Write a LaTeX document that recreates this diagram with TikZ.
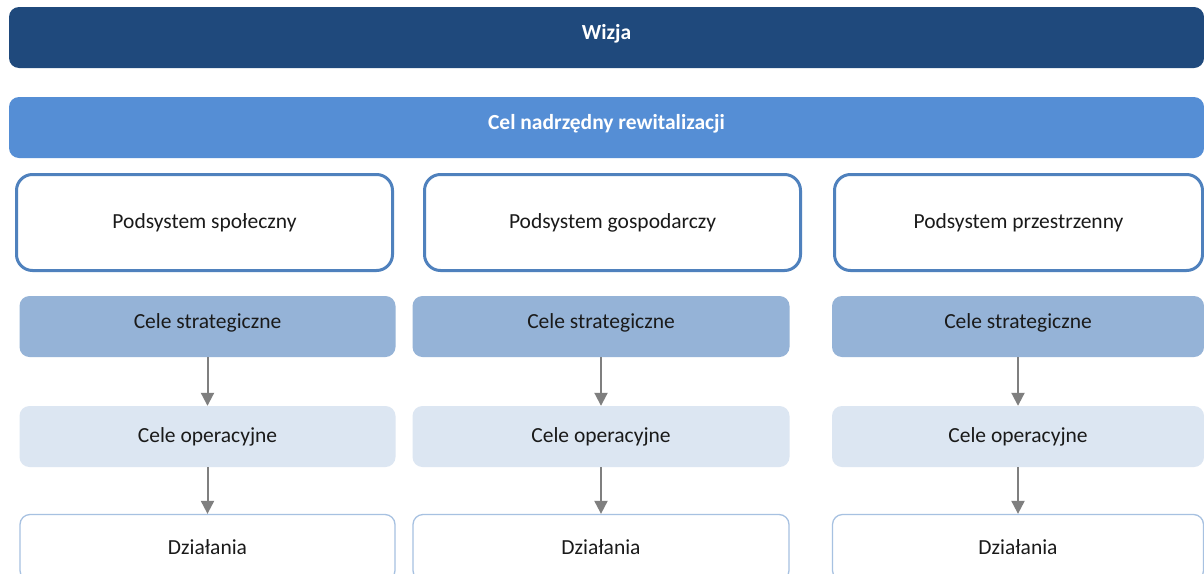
\documentclass[tikz,border=0pt]{standalone}
\usepackage{fontspec}
\setmainfont{Carlito}
\usetikzlibrary{arrows.meta}
\definecolor{navy}{HTML}{1F497C}
\definecolor{midblue}{HTML}{558ED5}
\definecolor{strokeblue}{HTML}{4F81BD}
\definecolor{stratblue}{HTML}{95B3D7}
\definecolor{operblue}{HTML}{DCE6F2}
\definecolor{dzialblue}{HTML}{A7C1E1}
\definecolor{txt}{HTML}{1A1A1A}
\definecolor{arrgray}{HTML}{7F7F7F}
\tikzset{
  lbl/.style={font=\fontsize{21.5}{24}\selectfont},
  raised/.style={text height=15pt, text depth=10.5pt},
  bar/.style={lbl, raised, rounded corners=10pt, minimum width=1195pt, minimum height=61pt, inner sep=0pt, text=white, font=\fontsize{21.5}{24}\selectfont\bfseries},
  podbox/.style={lbl, draw=strokeblue, line width=3pt, fill=white, rounded corners=16pt, minimum height=96pt, inner sep=0pt, text=txt},
  stratbox/.style={lbl, raised, fill=stratblue, rounded corners=10pt, minimum height=61pt, inner sep=0pt, text=txt},
  operbox/.style={lbl, fill=operblue, rounded corners=10pt, minimum height=61pt, inner sep=0pt, text=txt},
  dzialbox/.style={lbl, draw=dzialblue, line width=1.3pt, fill=white, rounded corners=10pt, minimum height=66pt, inner sep=0pt, text=txt},
  arr/.style={draw=arrgray, line width=2pt, -{Triangle[length=13pt,width=13pt]}}
}
\begin{document}
\begin{tikzpicture}[x=1pt,y=-1pt]
\useasboundingbox (0,0) rectangle (1204,573);
\clip (0,0) rectangle (1204,573);
\fill[white] (0,0) rectangle (1204,573);
\node[bar, fill=navy] (wizja) at (606.5,37.5) {Wizja};
\node[bar, fill=midblue] (cel) at (606.5,127.5) {Cel nadrzędny rewitalizacji};
\node[podbox, minimum width=376pt] (p1) at (204.5,222.5) {Podsystem społeczny};
\node[podbox, minimum width=376pt] (p2) at (612.5,222.5) {Podsystem gospodarczy};
\node[podbox, minimum width=368pt] (p3) at (1018.5,222.5) {Podsystem przestrzenny};
\node[stratbox, minimum width=376pt] (s1) at (207.5,326.5) {Cele strategiczne};
\node[stratbox, minimum width=377pt] (s2) at (601,326.5) {Cele strategiczne};
\node[stratbox, minimum width=372pt] (s3) at (1018,326.5) {Cele strategiczne};
\node[operbox, minimum width=376pt] (o1) at (207.5,436.5) {Cele operacyjne};
\node[operbox, minimum width=377pt] (o2) at (601,436.5) {Cele operacyjne};
\node[operbox, minimum width=372pt] (o3) at (1018,436.5) {Cele operacyjne};
\node[dzialbox, minimum width=375pt] (d1) at (207.5,547.5) {Działania};
\node[dzialbox, minimum width=376pt] (d2) at (601,547.5) {Działania};
\node[dzialbox, minimum width=371pt] (d3) at (1018,547.5) {Działania};
\foreach \i in {1,2,3} {
  \draw[arr] (s\i) -- (o\i);
  \draw[arr] (o\i) -- (d\i);
}
\end{tikzpicture}
\end{document}
